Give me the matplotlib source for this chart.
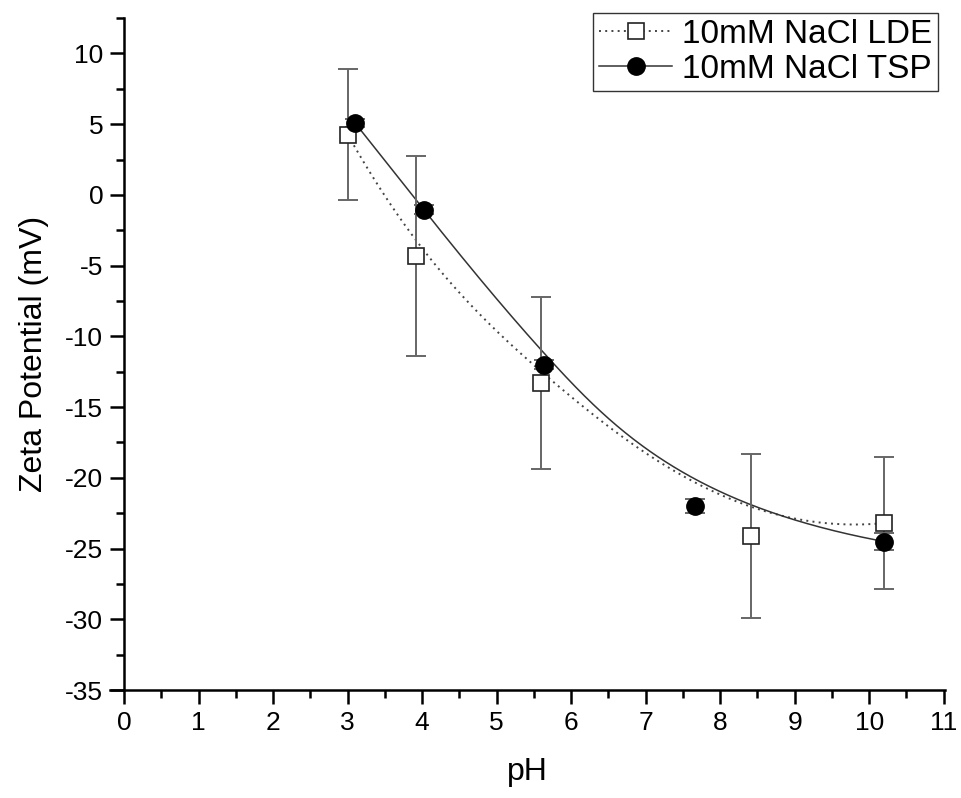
import numpy as np
import matplotlib
matplotlib.use('Agg')
import matplotlib.pyplot as plt
from matplotlib.ticker import MultipleLocator

plt.rcParams['font.family'] = ['Liberation Sans', 'DejaVu Sans']
plt.rcParams['axes.unicode_minus'] = False

# 10mM NaCl LDE (open squares)
lde_ph = [3.0, 3.92, 5.60, 8.41, 10.2]
lde_zeta = [4.27, -4.33, -13.3, -24.1, -23.2]
lde_err = [4.6, 7.07, 6.1, 5.8, 4.65]

# 10mM NaCl TSP (filled circles)
tsp_ph = [3.10, 4.02, 5.63, 7.66, 10.2]
tsp_zeta = [5.08, -1.03, -12.0, -22.0, -24.5]
tsp_err = [0.3, 0.3, 0.3, 0.5, 0.6]


def bspline(xs, ys, n=300, k=3):
    # clamped B-spline using the points as control points (Origin style connect)
    P = np.column_stack([xs, ys])
    m = len(P)
    k = min(k, m - 1)
    inner = np.linspace(0, 1, m - k + 1)[1:-1]
    knots = np.concatenate([np.zeros(k + 1), inner, np.ones(k + 1)])
    u = np.linspace(0, 1, n)
    u[-1] = 1 - 1e-12
    N = np.zeros((n, len(knots) - 1))
    for i in range(len(knots) - 1):
        N[:, i] = (u >= knots[i]) & (u < knots[i + 1])
    for d in range(1, k + 1):
        Nn = np.zeros((n, len(knots) - 1 - d))
        for i in range(len(knots) - 1 - d):
            a = knots[i + d] - knots[i]
            b = knots[i + d + 1] - knots[i + 1]
            t1 = (u - knots[i]) / a * N[:, i] if a > 0 else 0
            t2 = (knots[i + d + 1] - u) / b * N[:, i + 1] if b > 0 else 0
            Nn[:, i] = t1 + t2
        N = Nn
    C = N @ P
    return C[:, 0], C[:, 1]


fig = plt.figure(figsize=(9.61, 7.98), dpi=100)
ax = fig.add_axes([0.1145, 0.1353, 0.869, 0.842])

bx, by = bspline(lde_ph, lde_zeta)
ax.plot(bx, by, ls=(0, (1, 2.2)), color='#444444', lw=1.4, zorder=2)
bx, by = bspline(tsp_ph, tsp_zeta)
ax.plot(bx, by, ls='-', color='#333333', lw=1.1, zorder=2)

ax.errorbar(lde_ph, lde_zeta, yerr=lde_err, fmt='none', ecolor='#666666',
            elinewidth=1.4, capsize=7, capthick=1.4, zorder=3)
ax.errorbar(tsp_ph, tsp_zeta, yerr=tsp_err, fmt='none', ecolor='#666666',
            elinewidth=1.4, capsize=7, capthick=1.4, zorder=3)
ax.plot(lde_ph, lde_zeta, 's', ms=11, mfc='white', mec='#222222', mew=1.2, zorder=4)
ax.plot(tsp_ph, tsp_zeta, 'o', ms=12.5, mfc='black', mec='black', zorder=5)

# legend handles
h1, = ax.plot([], [], ls=(0, (1, 2.2)), color='#444444', lw=1.4, marker='s',
              ms=11, mfc='white', mec='#222222', mew=1.2)
h2, = ax.plot([], [], ls='-', color='#333333', lw=1.1, marker='o', ms=12.5,
              mfc='black', mec='black')
leg = ax.legend([h1, h2], ['10mM NaCl LDE', '10mM NaCl TSP'], loc='upper right',
                bbox_to_anchor=(1.0, 1.018), fontsize=24, frameon=True,
                fancybox=False, edgecolor='#333333', framealpha=1,
                handlelength=2.2, handletextpad=0.3, borderpad=0.18,
                labelspacing=0.12, borderaxespad=0.2)
leg.get_frame().set_linewidth(1.0)

ax.set_xlim(-0.19, 11.02)
ax.set_ylim(-35, 12.5)
ax.spines['top'].set_visible(False)
ax.spines['right'].set_visible(False)
ax.spines['left'].set_position(('data', 0))
ax.spines['left'].set_bounds(-35, 12.5)
ax.spines['bottom'].set_bounds(-0.19, 11.02)
for s in ['left', 'bottom']:
    ax.spines[s].set_linewidth(1.8)

ax.set_xticks(range(0, 12))
ax.set_yticks(range(-35, 11, 5))
ax.xaxis.set_minor_locator(MultipleLocator(0.5))
ax.yaxis.set_minor_locator(MultipleLocator(2.5))
ax.tick_params(which='major', direction='out', length=10, width=1.8,
               labelsize=19, pad=5)
ax.tick_params(which='minor', direction='out', length=6, width=1.8)

ax.set_xlabel('pH', fontsize=23, labelpad=16)
ax.set_ylabel('Zeta Potential (mV)', fontsize=23, labelpad=12)

fig.savefig('out.png', dpi=100)
